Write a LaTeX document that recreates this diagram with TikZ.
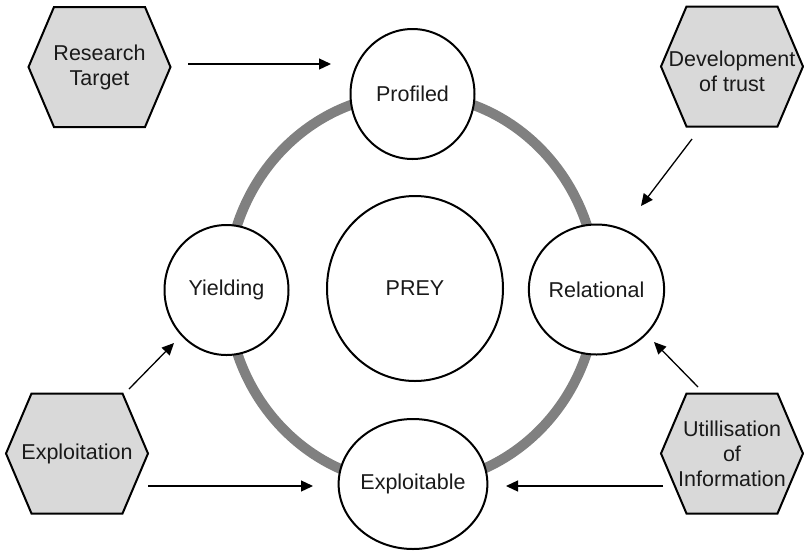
\documentclass[tikz,border=0pt]{standalone}
\usepackage{fontspec}
\setmainfont{Liberation Sans}
\usetikzlibrary{arrows.meta,shapes.geometric}

\definecolor{hexfill}{HTML}{D9D9D9}
\definecolor{ringgray}{HTML}{808080}
\definecolor{inkdark}{HTML}{1A1A1A}

\tikzset{
  stage/.style={ellipse, draw=black, line width=2pt, fill=white, inner sep=0pt,
    minimum width=124pt, minimum height=130pt, text=inkdark,
    font=\fontsize{21.5}{25}\selectfont},
  core/.style={stage, minimum width=176pt, minimum height=185pt},
  hexshape/.style={draw=black, line width=2pt, fill=hexfill, line join=miter},
  hexlabel/.style={align=center, text=inkdark, inner sep=0pt,
    font=\fontsize{21.5}{25}\selectfont},
  ring/.style={draw=ringgray, line width=10pt},
  arr/.style={draw=black, line width=1.3pt, -{Triangle[length=12pt,width=11pt]}}
}

% a flat-topped hexagon of width 142 and height 120 around a label
\newcommand\hexnode[4][0]{%
  \filldraw[hexshape] (#3) ++(-71,0) -- ++(25.5,-60) -- ++(91,0) -- ++(25.5,60)
    -- ++(-25.5,60) -- ++(-91,0) -- cycle;
  \node[hexlabel] (#2) at ([yshift=-#1pt]#3) {#4};
}

\begin{document}
\begin{tikzpicture}[x=1pt, y=-1pt]
  \useasboundingbox (0,0) rectangle (804,550);

  % the cycle ring behind the stages
  \draw[ring] (412,289) ellipse [x radius=185, y radius=195];

  % stages of the cycle
  \node[stage] (prof) at (412.5,94)  {Profiled};
  \node[stage] (yield) at (226.5,290) {Yielding};
  \node[stage] (rel) at (596.5,289.5) {Relational};
  \node[stage] (expl) at (413,484)   {Exploitable};
  \node[core]  (prey) at (415,288.5) {PREY};

  % driving activities
  \hexnode{rt}{99.5,67}{Research\\Target}
  \hexnode[5]{dev}{732,66.5}{Development\\of trust}
  \hexnode{exn}{77,453.5}{Exploitation}
  \hexnode{util}{732,453.5}{Utillisation\\of\\Information}

  % arrow end points
  \coordinate (rtA) at (188,64);   \coordinate (rtB) at (331,64);
  \coordinate (devA) at (692,139); \coordinate (devB) at (641,206);
  \coordinate (exA) at (129,389);  \coordinate (exB) at (174,343);
  \coordinate (exC) at (148,486);  \coordinate (exD) at (313,486);
  \coordinate (utA) at (698,387);  \coordinate (utB) at (654,342);
  \coordinate (utC) at (663,486);  \coordinate (utD) at (506,486);

  \draw[arr] (rtA) -- (rtB);
  \draw[arr] (devA) -- (devB);
  \draw[arr] (exA) -- (exB);
  \draw[arr] (exC) -- (exD);
  \draw[arr] (utA) -- (utB);
  \draw[arr] (utC) -- (utD);
\end{tikzpicture}
\end{document}
